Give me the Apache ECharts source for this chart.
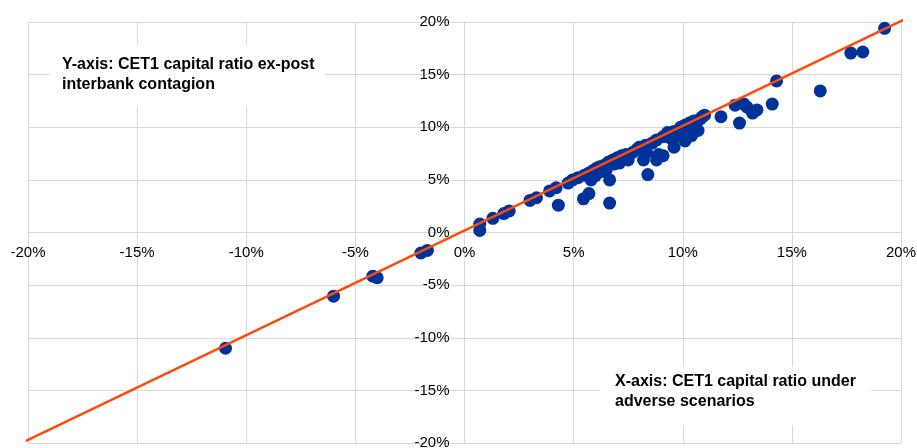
<!DOCTYPE html>
<html>
<head>
<meta charset="utf-8">
<script src="https://cdn.jsdelivr.net/npm/echarts@6/dist/echarts.min.js"></script>
<style>
  html, body { margin: 0; padding: 0; background: #fff; }
  #chart { width: 917px; height: 448px; }
</style>
</head>
<body>
<div id="chart"></div>
<script>
// Axis range (percent)
const axisMin = -20;
const axisMax = 20;
const axisStep = 5;

// Scatter: CET1 ratio under adverse scenario (x) vs ex-post interbank contagion (y), in %
const xValues = [
  -10.95, -6.0, -4.2, -4.0, -2.0, -1.7,
  0.7, 0.7, 1.3, 1.8, 2.05, 3.0, 3.3, 3.9, 4.2, 4.3, 4.75, 4.95, 5.2, 5.45,
  5.7, 5.5, 5.7, 5.8, 5.9, 6.05, 6.0, 6.2, 6.3, 6.4, 6.5, 6.65, 6.65, 6.6,
  6.8, 6.85, 7.0, 7.1, 7.2, 7.4, 7.5, 7.7, 7.9, 8.0, 8.2, 8.3, 8.4, 8.35,
  8.6, 8.8, 8.8, 8.9, 9.1, 9.1, 9.3, 9.4, 9.6, 9.6, 9.8, 9.9, 10.1, 10.1,
  10.2, 10.3, 10.4, 10.5, 10.7, 10.8, 10.9, 11.0, 11.75, 12.4, 12.6, 12.8,
  12.95, 13.2, 13.4, 14.1, 14.3, 16.3, 17.7, 18.25, 19.25
];
const yValues = [
  -11.0, -6.05, -4.15, -4.3, -1.95, -1.7,
  0.8, 0.2, 1.35, 1.8, 2.05, 3.05, 3.3, 3.95, 4.25, 2.6, 4.7, 5.0, 5.2, 3.2,
  3.7, 5.45, 5.65, 5.0, 5.9, 6.1, 5.4, 6.25, 5.8, 6.4, 6.0, 5.0, 2.8, 6.7,
  6.9, 6.5, 7.1, 6.6, 7.3, 7.4, 6.9, 7.6, 7.9, 8.1, 6.9, 8.3, 5.5, 7.6,
  8.5, 6.9, 8.8, 7.4, 7.3, 9.1, 9.5, 9.0, 8.1, 9.6, 9.2, 10.0, 8.7, 10.2,
  9.5, 10.4, 9.2, 10.6, 9.7, 10.8, 11.0, 11.15, 11.0, 12.1, 10.4, 12.2,
  11.9, 11.35, 11.65, 12.2, 14.4, 13.45, 17.05, 17.15, 19.4
];

// Fitted line end points (%)
const lineX = [-20.2, 20.72];
const lineY = [-19.9, 20.8];

// Annotation texts
const yAxisNote = ['Y-axis: CET1 capital ratio ex-post', 'interbank contagion'];
const xAxisNote = ['X-axis: CET1 capital ratio under', 'adverse scenarios'];

const scatterData = xValues.map((x, i) => [x, yValues[i]]);
const lineData = lineX.map((x, i) => [x, lineY[i]]);

const gridColor = '#d9d9d9';
const labelFont = 'Liberation Sans, Arial, sans-serif';
const gridBox = { left: 28, right: 16, top: 22, bottom: 5 };

const chart = echarts.init(document.getElementById('chart'), null, { renderer: 'canvas' });

function axisDef(margin) {
  return {
    type: 'value',
    min: axisMin,
    max: axisMax,
    interval: axisStep,
    offset: 0,
    axisLine: { show: true, onZero: false, lineStyle: { color: gridColor, width: 1 } },
    axisTick: { show: false },
    splitLine: { show: true, lineStyle: { color: gridColor, width: 1 } },
    axisLabel: {
      formatter: '{value}%',
      color: '#000',
      fontFamily: labelFont,
      fontSize: 15,
      margin: margin
    }
  };
}

const xAxisOpt = Object.assign(axisDef(13), { position: 'bottom' });
const yAxisOpt = Object.assign(axisDef(15), { position: 'left' });

chart.setOption({
  animation: false,
  backgroundColor: '#ffffff',
  grid: Object.assign({ containLabel: false, outerBoundsMode: 'none' }, gridBox),
  xAxis: xAxisOpt,
  yAxis: yAxisOpt,
  series: [
    {
      type: 'scatter',
      data: scatterData,
      symbol: 'circle',
      symbolSize: 13,
      itemStyle: { color: '#003399', opacity: 1 },
      z: 3
    },
    {
      type: 'line',
      data: lineData,
      showSymbol: false,
      symbol: 'none',
      clip: false,
      lineStyle: { color: '#ff4a0a', width: 2.5 },
      z: 4
    }
  ],
  graphic: [
    {
      type: 'rect', z: 100,
      shape: { x: 50, y: 44, width: 275, height: 62 },
      style: { fill: '#ffffff' }
    },
    {
      type: 'text', z: 101,
      x: 62, y: 55,
      style: {
        text: yAxisNote.join('\n'),
        font: 'bold 16px ' + labelFont,
        lineHeight: 20,
        fill: '#000',
        verticalAlign: 'top'
      }
    },
    {
      type: 'rect', z: 100,
      shape: { x: 600, y: 367, width: 271, height: 58 },
      style: { fill: '#ffffff' }
    },
    {
      type: 'text', z: 101,
      x: 615, y: 372,
      style: {
        text: xAxisNote.join('\n'),
        font: 'bold 16px ' + labelFont,
        lineHeight: 20,
        fill: '#000',
        verticalAlign: 'top'
      }
    }
  ]
});

// Move both axes so they cross at the origin (0, 0) of the data scales.
const origin = chart.convertToPixel({ gridIndex: 0 }, [0, 0]);
const H = chart.getHeight();
const bottomEdge = H - gridBox.bottom;
chart.setOption({
  xAxis: { offset: origin[1] - bottomEdge },
  yAxis: { offset: gridBox.left - origin[0] }
});
</script>
</body>
</html>
